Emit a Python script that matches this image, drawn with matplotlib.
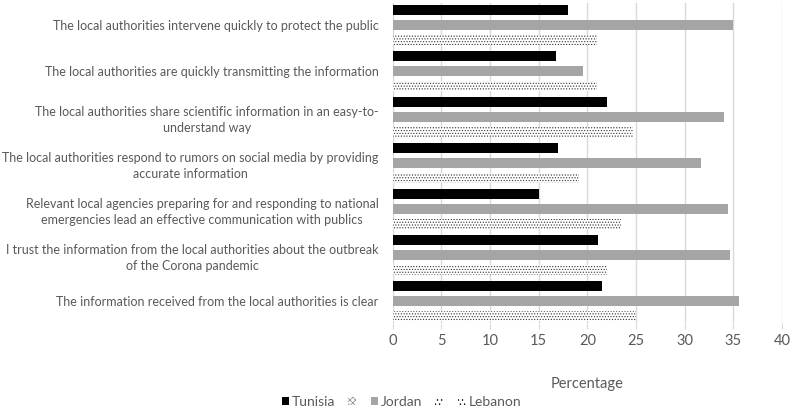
import matplotlib.pyplot as plt
import numpy as np
from matplotlib.patches import Patch

plt.rcParams['font.family'] = ['Lato', 'DejaVu Sans']
plt.rcParams['hatch.linewidth'] = 0.5

categories = [
    "The local authorities intervene quickly to protect the public",
    "The local authorities are quickly transmitting the information",
    "The local authorities share scientific information in an easy-to-\nunderstand way",
    "The local authorities respond to rumors on social media by providing\naccurate information",
    "Relevant local agencies preparing for and responding to national\nemergencies lead an effective communication with publics",
    "I trust the information from the local authorities about the outbreak\nof the Corona pandemic",
    "The information received from the local authorities is clear",
]
tunisia = [18.0, 16.8, 22.0, 17.0, 15.0, 21.1, 21.5]
jordan = [35.0, 19.6, 34.0, 31.7, 34.4, 34.6, 35.6]
lebanon = [21.0, 21.0, 24.7, 19.1, 23.5, 22.0, 25.0]

text_color = "#595959"
grid_color = "#d9d9d9"

fig = plt.figure(figsize=(7.9, 4.08), dpi=100)
ax = fig.add_axes([0.497, 0.208, 0.493, 0.785])

y = np.arange(len(categories))
off = 0.326
h = 0.22
ax.barh(y - off, tunisia, height=h, color="black")
ax.barh(y, jordan, height=h, color="#a5a5a5")
ax.barh(y + off, lebanon, height=h, color="white", edgecolor="#333333",
        hatch="......", linewidth=0)

ax.set_ylim(6.48, -0.48)
ax.set_xlim(0, 40)
ax.set_xticks(range(0, 41, 5))
ax.set_yticks(y)
ax.set_yticklabels(categories, multialignment="center", linespacing=1.4)
ax.tick_params(axis="y", length=0, pad=10, labelsize=9.0, labelcolor=text_color)
ax.tick_params(axis="x", length=4, color=grid_color, labelsize=10.5,
               labelcolor=text_color, pad=4)
ax.xaxis.grid(True, color=grid_color, linewidth=1)
ax.set_axisbelow(True)
for s in ax.spines.values():
    s.set_visible(False)
ax.set_xlabel("Percentage", fontsize=10.5, color=text_color, labelpad=21)

handles = [
    Patch(facecolor="black", label="Tunisia"),
    Patch(facecolor="white", edgecolor="#888888", hatch="xxxxxx", linewidth=0, label=""),
    Patch(facecolor="#a5a5a5", label="Jordan"),
    Patch(facecolor="white", edgecolor="black", hatch="....", linewidth=0, label=""),
    Patch(facecolor="white", edgecolor="black", hatch="....", linewidth=0, label="Lebanon"),
]
fig.legend(handles=handles, loc="lower center", ncol=5, bbox_to_anchor=(0.508, 0.0),
           frameon=False, fontsize=10, labelcolor=text_color, handlelength=0.55,
           handleheight=0.55, handletextpad=0.2, columnspacing=0.9,
           borderaxespad=0, borderpad=0.0)

fig.savefig("out.png", dpi=100)
